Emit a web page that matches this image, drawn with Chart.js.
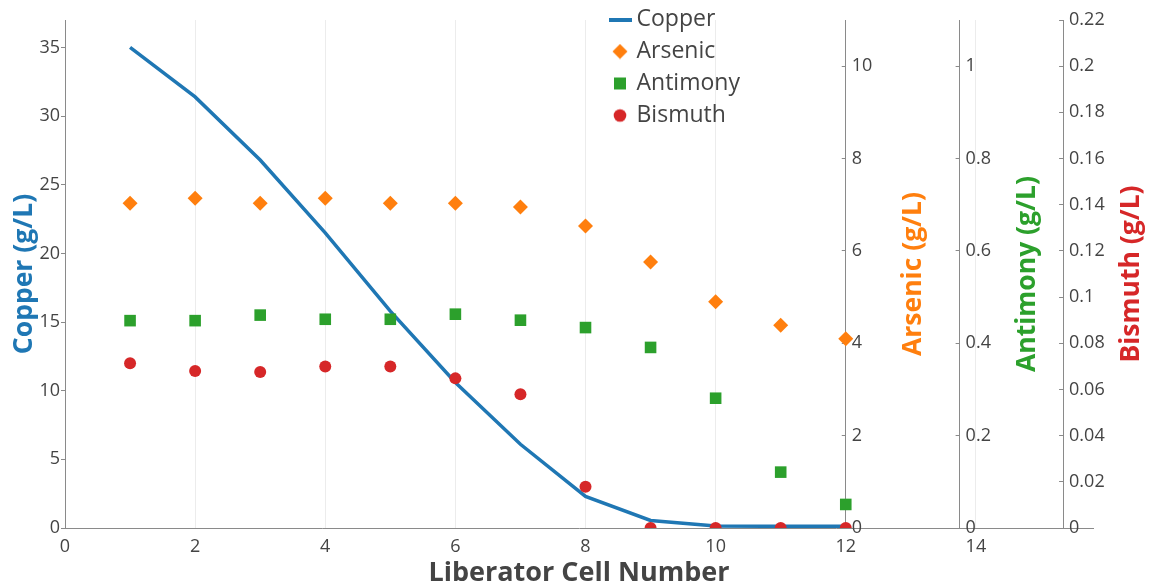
<!DOCTYPE html>
<html>
<head>
<meta charset="utf-8">
<script src="https://cdn.jsdelivr.net/npm/chart.js@4.4.0/dist/chart.umd.min.js"></script>
<style>
  html, body { margin: 0; padding: 0; background: #fff; }
</style>
</head>
<body>
<canvas id="myChart" width="1152" height="586"></canvas>
<script>
// data
const cells = [1, 2, 3, 4, 5, 6, 7, 8, 9, 10, 11, 12];
const copper = [35.0, 31.4, 26.8, 21.5, 15.8, 10.6, 6.1, 2.3, 0.55, 0.15, 0.12, 0.12];
const arsenic = [7.03, 7.14, 7.03, 7.14, 7.03, 7.03, 6.95, 6.54, 5.76, 4.9, 4.39, 4.1];
const antimony = [0.449, 0.449, 0.461, 0.452, 0.452, 0.463, 0.45, 0.434, 0.391, 0.281, 0.121, 0.051];
const bismuth = [0.0713, 0.068, 0.0676, 0.0699, 0.0699, 0.0648, 0.0579, 0.0179, 0, 0, 0, 0];

// tick labels
const xTicks = [0, 2, 4, 6, 8, 10, 12, 14];
const copperTicks = [0, 5, 10, 15, 20, 25, 30, 35];
const arsenicTicks = [0, 2, 4, 6, 8, 10];
const antimonyTicks = [0, 0.2, 0.4, 0.6, 0.8, 1];
const bismuthTicks = [0, 0.02, 0.04, 0.06, 0.08, 0.1, 0.12, 0.14, 0.16, 0.18, 0.2, 0.22];

const BLUE = '#1f77b4', ORANGE = '#ff7f0e', GREEN = '#2ca02c', RED = '#d62728';
const TXT = '#444', LINE = '#8a8a8a';
const TITLE_SIZE = 26.5;

Chart.defaults.font.family = "'Open Sans', sans-serif";
Chart.defaults.color = TXT;

function pts(ys) {
    return cells.map((c, i) => ({ x: c, y: ys[i] }));
}
function fixTicks(list) {
    return (scale) => { scale.ticks = list.map(v => ({ value: v })); };
}

// where the three right hand axes sit, in x units
const axisAt = [['yAs', 12], ['ySb', 13.75], ['yBi', 15.34]];
const titleGap = 68;

// legend symbols, drawn at the size the reference uses
function marker(kind, color) {
    const c = document.createElement('canvas');
    const w = kind === 'line' ? 23 : 16;
    const h = kind === 'line' ? 4 : 16;
    c.width = w;
    c.height = h;
    const g = c.getContext('2d');
    g.fillStyle = color;
    if (kind === 'line') {
        g.fillRect(0, 0, w, h);
    } else if (kind === 'diamond') {
        g.beginPath();
        g.moveTo(8, 0.5); g.lineTo(15.5, 8); g.lineTo(8, 15.5); g.lineTo(0.5, 8);
        g.closePath();
        g.fill();
    } else if (kind === 'square') {
        g.fillRect(2, 2, 12, 12);
    } else {
        g.beginPath();
        g.arc(8, 8, 6.3, 0, Math.PI * 2);
        g.fill();
    }
    return c;
}
const legendMarks = [marker('line', BLUE), marker('diamond', ORANGE), marker('square', GREEN), marker('circle', RED)];

const placeAxes = {
    id: 'placeAxes',
    afterLayout(chart) {
        const xs = chart.scales.x;
        axisAt.forEach(([id, at]) => {
            const s = chart.scales[id];
            const px = xs.getPixelForValue(at);
            s.right = px;
            s.left = px + titleGap - TITLE_SIZE * 0.6;
        });
        const lg = chart.legend;
        lg.left = 606;
        lg.top = -1;
        lg.right = 800;
        lg.bottom = 150;
        lg.width = lg.right - lg.left;
        lg.height = lg.bottom - lg.top;
    }
};

function rightAxis(title, color, min, max, list) {
    return {
        type: 'linear',
        position: 'left',
        min: min,
        max: max,
        afterBuildTicks: fixTicks(list),
        afterFit: (s) => { s.width = 0; },
        grid: { drawOnChartArea: false, drawTicks: true, tickLength: 4, tickColor: LINE },
        border: { color: LINE, width: 1 },
        ticks: { mirror: true, padding: 6, color: TXT, font: { size: 18 }, callback: (v) => String(v) },
        title: { display: true, text: title, color: color, font: { size: TITLE_SIZE, weight: 'bold' }, padding: 0 }
    };
}

new Chart('myChart', {
    type: 'line',
    data: {
        datasets: [{
            label: 'Copper',
            data: pts(copper),
            yAxisID: 'yCu',
            borderColor: BLUE,
            backgroundColor: BLUE,
            borderWidth: 3.5,
            pointRadius: 0,
            tension: 0,
            order: 1
        }, {
            label: 'Arsenic',
            data: pts(arsenic),
            yAxisID: 'yAs',
            showLine: false,
            pointStyle: 'rectRot',
            pointRadius: 7.5,
            backgroundColor: ORANGE,
            borderColor: ORANGE,
            borderWidth: 0,
            clip: 0
        }, {
            label: 'Antimony',
            data: pts(antimony),
            yAxisID: 'ySb',
            showLine: false,
            pointStyle: 'rect',
            pointRadius: 8.2,
            backgroundColor: GREEN,
            borderColor: GREEN,
            borderWidth: 0,
            clip: 0
        }, {
            label: 'Bismuth',
            data: pts(bismuth),
            yAxisID: 'yBi',
            showLine: false,
            pointStyle: 'circle',
            pointRadius: 6,
            backgroundColor: RED,
            borderColor: RED,
            borderWidth: 0,
            clip: 0
        }]
    },
    options: {
        responsive: false,
        animation: false,
        layout: { padding: { left: 0, right: 59, top: 20, bottom: 0 } },
        scales: {
            x: {
                type: 'linear',
                min: 0,
                max: 15.8,
                afterBuildTicks: fixTicks(xTicks),
                afterFit: (s) => { s.height = 58; },
                grid: { color: '#ececec', drawTicks: false },
                border: { color: LINE, width: 1 },
                ticks: { padding: 8, color: TXT, font: { size: 18 }, maxRotation: 0 },
                title: { display: true, text: 'Liberator Cell Number', color: TXT, font: { size: 27, weight: 'bold' }, padding: { top: 0, bottom: -4 } }
            },
            yCu: {
                type: 'linear',
                position: 'left',
                min: 0,
                max: 37,
                afterBuildTicks: fixTicks(copperTicks),
                afterFit: (s) => { s.width = 65; },
                grid: { drawOnChartArea: false, drawTicks: true, tickLength: 4, tickColor: LINE },
                border: { color: LINE, width: 1 },
                ticks: { padding: 1, color: TXT, font: { size: 18 } },
                title: { display: true, text: 'Copper (g/L)', color: BLUE, font: { size: TITLE_SIZE, weight: 'bold' }, padding: { top: 9, bottom: 0 } }
            },
            yAs: rightAxis('Arsenic (g/L)', ORANGE, 0, 11, arsenicTicks),
            ySb: rightAxis('Antimony (g/L)', GREEN, 0, 1.1, antimonyTicks),
            yBi: rightAxis('Bismuth (g/L)', RED, 0, 0.22, bismuthTicks)
        },
        plugins: {
            tooltip: { enabled: false },
            legend: {
                position: 'chartArea',
                align: 'start',
                labels: {
                    usePointStyle: true,
                    boxWidth: 10,
                    boxHeight: 10,
                    padding: 9,
                    color: TXT,
                    font: { size: 23 },
                    sort: (a, b) => a.datasetIndex - b.datasetIndex,
                    generateLabels: (chart) => {
                        const items = Chart.defaults.plugins.legend.labels.generateLabels(chart);
                        items.forEach(it => {
                            it.pointStyle = legendMarks[it.datasetIndex];
                            it.lineWidth = 0;
                        });
                        return items;
                    }
                }
            }
        }
    },
    plugins: [placeAxes]
});
</script>
</body>
</html>
